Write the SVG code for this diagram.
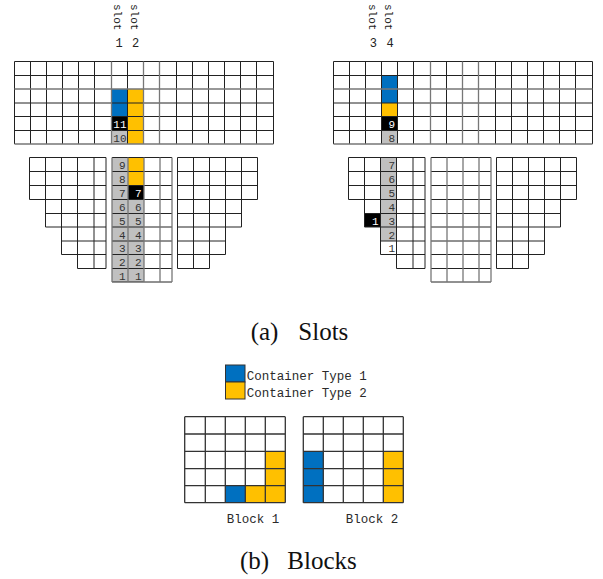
<svg xmlns="http://www.w3.org/2000/svg" xmlns:xlink="http://www.w3.org/1999/xlink" width="603" height="579" viewBox="0 0 603 579">
  <style>
    .ln { fill: none; stroke: #222; stroke-width: 1; }
    .lg { fill: none; stroke: #777; stroke-width: 1.3; }
    .blue { fill: #0070c0; }
    .ylw { fill: #ffc000; }
    .gry { fill: #c0c0c0; }
    .blk { fill: #000; }
    .num { font-family: "Liberation Mono", "DejaVu Sans Mono", monospace; font-size: 11px; fill: #333; text-anchor: end; }
    .wht { fill: #fff; }
    .slot { font-family: "Liberation Mono", "DejaVu Sans Mono", monospace; font-size: 11px; fill: #222; }
    .sn { font-family: "Liberation Mono", "DejaVu Sans Mono", monospace; font-size: 12px; fill: #222; text-anchor: middle; }
    .leg { font-family: "Liberation Mono", "DejaVu Sans Mono", monospace; font-size: 12.5px; fill: #2a2a2a; }
    .cap { font-family: "Liberation Serif", "Times New Roman", serif; font-size: 25px; fill: #111; }
    .bk { fill: none; stroke: #333; stroke-width: 1.3; }
    .box { stroke: #333; stroke-width: 1; }
  </style>
  <defs>
    <!-- 16 x 6 bay grid above deck -->
    <g id="bay-lines">
      <path class="ln" d="M14.5 61.5H273.5M14.5 75.5H273.5M14.5 103H273.5M14.5 116.5H273.5M14.5 130.5H273.5
        M14.5 61.5V144M30.5 61.5V144M46.5 61.5V144M62.5 61.5V144M78.5 61.5V144M94.5 61.5V144M127.5 61.5V144
        M176.5 61.5V144M192.5 61.5V144M208.5 61.5V144M224.5 61.5V144M240.5 61.5V144M256.5 61.5V144M273.5 61.5V144"/>
      <path class="lg" d="M14.5 89H273.5M14.5 144H273.5M111.5 61.5V144M143.5 61.5V144M159.5 61.5V144"/>
    </g>
    <!-- stepped hull cross-section below deck: wing, centre and wing sections -->
    <g id="hull-lines">
      <path class="ln" d="M29.5 157.5H106M29.5 171.5H106M29.5 185.5H106M29.5 199.5H106M45.5 213.5H106M45.5 227H106M61.5 241H106M61.5 254.5H106M77.5 268.5H106
        M29.5 157.5V199.5M45.5 157.5V227M61.5 157.5V254.5M77.5 157.5V268.5M94 157.5V268.5M106 157.5V268.5"/>
      <path class="ln" d="M177.5 157.5H257.5M177.5 171.5H257.5M177.5 185.5H257.5M177.5 199.5H257.5M177.5 213.5H241.5M177.5 227H241.5M177.5 241H225.5M177.5 254.5H225.5M177.5 268.5H209.5
        M177.5 157.5V268.5M193.5 157.5V268.5M209.5 157.5V268.5M225.5 157.5V254.5M241.5 157.5V227M257.5 157.5V199.5"/>
      <path class="ln" d="M112 157.5H172M112 171.5H172M112 185.5H172M112 199.5H172M112 213.5H172M112 227H172M112 241H172M112 254.5H172M112 268.5H172M112 282H172"/>
      <path class="lg" d="M112 157.5V282M128 157.5V282M144 157.5V282M160 157.5V282M172 157.5V282"/>
    </g>
  </defs>

  <rect width="603" height="579" fill="#fff"/>

  <!-- left bay: slots 1 and 2 -->
  <g id="bay-a">
    <rect class="blue" x="111.5" y="89" width="16" height="27.5"/>
    <rect class="blk" x="111.5" y="116.5" width="16" height="14"/>
    <rect class="gry" x="111.5" y="130.5" width="16" height="13.5"/>
    <rect class="ylw" x="127.5" y="89" width="16" height="55"/>
    <use xlink:href="#bay-lines" href="#bay-lines"/>
    <text class="num wht" x="126.5" y="128">11</text>
    <text class="num" x="126.5" y="141.5">10</text>
    <text class="slot" transform="translate(114.3,4) rotate(90)">slot</text>
    <text class="slot" transform="translate(131,4) rotate(90)">slot</text>
    <text class="sn" x="119" y="46.5">1</text>
    <text class="sn" x="135.5" y="46.5">2</text>
  </g>

  <g id="hull-a">
    <rect class="gry" x="112" y="157.5" width="16" height="124.5"/>
    <rect class="ylw" x="128" y="157.5" width="16" height="28"/>
    <rect class="blk" x="128" y="185.5" width="16" height="14"/>
    <rect class="gry" x="128" y="199.5" width="16" height="82.5"/>
    <use xlink:href="#hull-lines" href="#hull-lines"/>
    <g class="num">
      <text x="125.5" y="169.2">9</text>
      <text x="125.5" y="183.2">8</text>
      <text x="125.5" y="197.2">7</text>
      <text x="125.5" y="211.2">6</text>
      <text x="125.5" y="224.7">5</text>
      <text x="125.5" y="238.7">4</text>
      <text x="125.5" y="252.2">3</text>
      <text x="125.5" y="266.2">2</text>
      <text x="125.5" y="279.7">1</text>
      <text class="wht" x="141.5" y="197.2">7</text>
      <text x="141.5" y="211.2">6</text>
      <text x="141.5" y="224.7">5</text>
      <text x="141.5" y="238.7">4</text>
      <text x="141.5" y="252.2">3</text>
      <text x="141.5" y="266.2">2</text>
      <text x="141.5" y="279.7">1</text>
    </g>
  </g>

  <!-- right bay: slots 3 and 4 -->
  <g id="bay-b" transform="translate(319,0)">
    <rect class="blue" x="62.5" y="75.5" width="16" height="27.5"/>
    <rect class="ylw" x="62.5" y="103" width="16" height="13.5"/>
    <rect class="blk" x="62.5" y="116.5" width="16" height="14"/>
    <rect class="gry" x="62.5" y="130.5" width="16" height="13.5"/>
    <use xlink:href="#bay-lines" href="#bay-lines"/>
    <text class="num wht" x="76" y="128">9</text>
    <text class="num" x="76" y="141.5">8</text>
    <text class="slot" transform="translate(49.7,4) rotate(90)">slot</text>
    <text class="slot" transform="translate(66.3,4) rotate(90)">slot</text>
    <text class="sn" x="54.3" y="46.5">3</text>
    <text class="sn" x="71" y="46.5">4</text>
  </g>

  <g id="hull-b" transform="translate(319,0)">
    <rect class="gry" x="61.5" y="157.5" width="16" height="83.5"/>
    <rect class="blk" x="45.5" y="213.5" width="16" height="13.5"/>
    <use xlink:href="#hull-lines" href="#hull-lines"/>
    <g class="num">
      <text x="76" y="169.2">7</text>
      <text x="76" y="183.2">6</text>
      <text x="76" y="197.2">5</text>
      <text x="76" y="211.2">4</text>
      <text x="76" y="224.7">3</text>
      <text x="76" y="238.7">2</text>
      <text x="76" y="252.2">1</text>
      <text class="wht" x="59.5" y="224.7">1</text>
    </g>
  </g>

  <text id="caption-a" class="cap" y="339.5"><tspan x="250.7">(a)</tspan><tspan x="298.3">Slots</tspan></text>

  <!-- legend -->
  <g id="legend">
    <rect class="blue box" x="225.5" y="365" width="19.5" height="17"/>
    <rect class="ylw box" x="225.5" y="382" width="19.5" height="17"/>
    <text class="leg" x="246.7" y="380">Container Type 1</text>
    <text class="leg" x="246.7" y="396.5">Container Type 2</text>
  </g>

  <!-- 5 x 5 stacking blocks -->
  <g id="block-1">
    <rect class="blue" x="225.3" y="485.7" width="20" height="17"/>
    <rect class="ylw" x="245.3" y="485.7" width="20" height="17"/>
    <rect class="ylw" x="265.3" y="451.3" width="20" height="51.4"/>
    <path class="bk" d="M184.7 416.7H285.3M184.7 434H285.3M184.7 451.3H285.3M184.7 468.7H285.3M184.7 485.7H285.3M184.7 502.7H285.3
      M184.7 416.7V502.7M205.3 416.7V502.7M225.3 416.7V502.7M245.3 416.7V502.7M265.3 416.7V502.7M285.3 416.7V502.7"/>
    <text class="leg" x="226.7" y="522.5">Block 1</text>
  </g>

  <g id="block-2">
    <rect class="blue" x="303.3" y="451.3" width="20" height="51.4"/>
    <rect class="ylw" x="383.3" y="451.3" width="20" height="51.4"/>
    <path class="bk" d="M303.3 416.7H403.3M303.3 434H403.3M303.3 451.3H403.3M303.3 468.7H403.3M303.3 485.7H403.3M303.3 502.7H403.3
      M303.3 416.7V502.7M323.3 416.7V502.7M343.3 416.7V502.7M363.3 416.7V502.7M383.3 416.7V502.7M403.3 416.7V502.7"/>
    <text class="leg" x="345.7" y="522.5">Block 2</text>
  </g>

  <text id="caption-b" class="cap" y="569"><tspan x="240">(b)</tspan><tspan x="287.3">Blocks</tspan></text>
</svg>
